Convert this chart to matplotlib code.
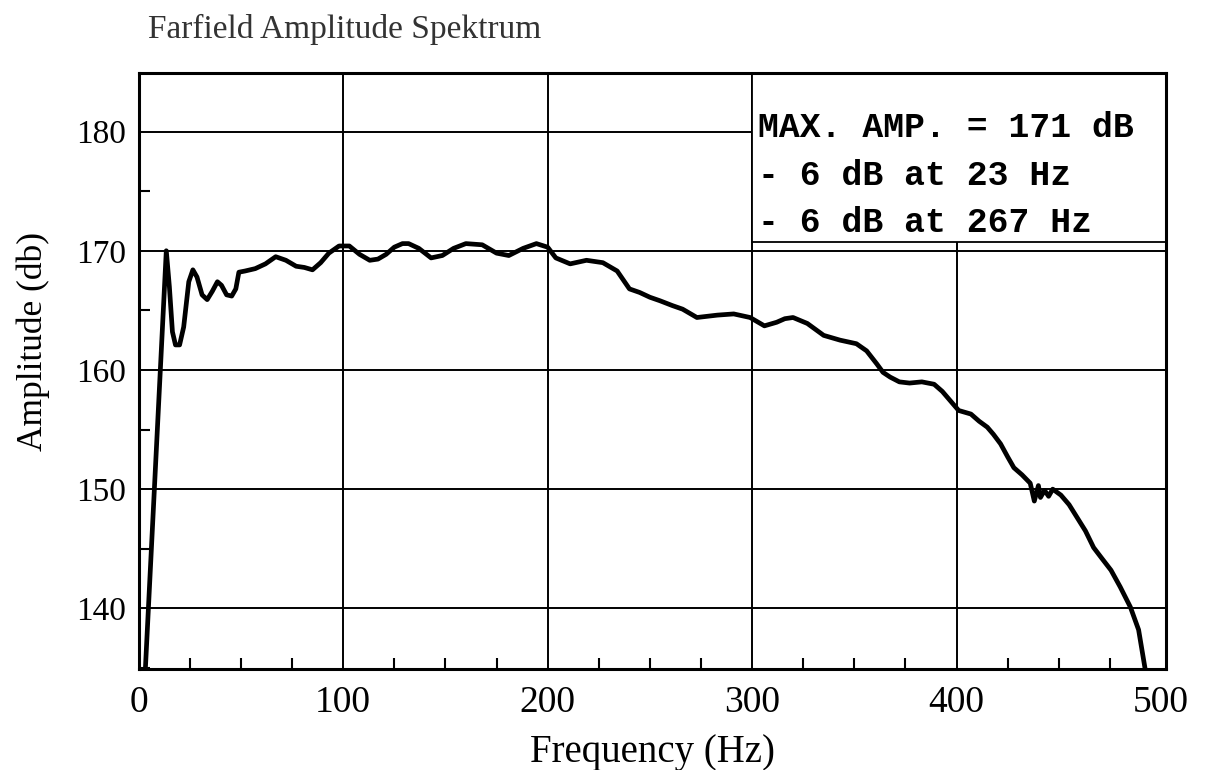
import matplotlib
matplotlib.use("Agg")
import matplotlib.pyplot as plt
from matplotlib.patches import Rectangle
from matplotlib.ticker import MultipleLocator

# spectrum
freq_hz = [3, 13.5, 15, 16.5, 18, 20, 22, 24.5, 26.5, 28.5, 31, 33.5, 36, 38.5,
           40.5, 43, 45.5, 47.5, 49, 52, 57, 62, 67, 72, 77, 81, 85, 89, 93, 98,
           103, 108, 113, 117, 121, 125, 129, 132, 137, 143, 148.5, 154, 160, 168,
           175, 181, 188, 194.5, 200, 204, 211, 219, 227, 234, 240, 245, 250, 255,
           261, 266, 273, 278, 283, 291, 299, 306, 312, 316, 320, 327, 335, 343,
           351, 356, 361, 364, 367.5, 372, 377, 383, 389, 393, 396, 401, 407, 411,
           415, 418, 421.5, 425, 428, 432, 436, 438, 440, 441, 443, 445, 447, 451,
           455, 459, 463, 467, 471, 475.5, 480, 485, 489, 492.6]
amp_db = [134, 170.0, 167.0, 163.2, 162.1, 162.1, 163.6, 167.4, 168.4, 167.8, 166.3,
          165.9, 166.6, 167.4, 167.1, 166.3, 166.2, 166.8, 168.2, 168.3, 168.5,
          168.9, 169.5, 169.2, 168.7, 168.6, 168.4, 169.0, 169.8, 170.4, 170.4,
          169.7, 169.2, 169.3, 169.7, 170.3, 170.6, 170.6, 170.2, 169.4, 169.6,
          170.2, 170.6, 170.5, 169.8, 169.6, 170.2, 170.6, 170.3, 169.4, 168.9,
          169.2, 169.0, 168.3, 166.8, 166.5, 166.1, 165.8, 165.4, 165.1, 164.4,
          164.5, 164.6, 164.7, 164.4, 163.7, 164.0, 164.3, 164.4, 163.9, 162.9,
          162.5, 162.2, 161.6, 160.5, 159.8, 159.4, 159.0, 158.9, 159.0, 158.8,
          158.2, 157.6, 156.6, 156.3, 155.7, 155.2, 154.6, 153.8, 152.7, 151.8,
          151.2, 150.5, 149.0, 150.3, 149.3, 149.9, 149.4, 150.0, 149.5, 148.7,
          147.6, 146.5, 145.1, 144.2, 143.2, 141.8, 140.1, 138.2, 134.5]

x_ticks = [0, 100, 200, 300, 400, 500]
y_ticks = [140, 150, 160, 170, 180]
info_lines = ["MAX. AMP. = 171 dB", "- 6 dB at 23 Hz", "- 6 dB at 267 Hz"]

serif = "Liberation Serif"

fig = plt.figure(figsize=(12.06, 7.7), dpi=100)
ax = fig.add_axes([0.115, 0.131, 0.852, 0.774])

ax.plot(freq_hz, amp_db, color="black", lw=3.4, zorder=3, solid_joinstyle="round")

ax.set_xlim(0, 502.5)
ax.set_ylim(134.9, 184.9)
ax.set_xticks(x_ticks)
ax.set_yticks(y_ticks)
ax.xaxis.set_minor_locator(MultipleLocator(25))
ax.yaxis.set_minor_locator(MultipleLocator(5))
ax.tick_params(which="major", length=0)
ax.tick_params(axis="x", which="major", pad=12, labelsize=27)
ax.tick_params(axis="y", which="major", pad=9, labelsize=24)
ax.tick_params(which="minor", direction="in", length=8, width=1.5)
for lab in ax.get_xticklabels() + ax.get_yticklabels():
    lab.set_fontfamily(serif)

ax.set_axisbelow(True)
ax.grid(True, which="major", color="black", lw=1.4)
ax.xaxis.get_gridlines()[-1].set_visible(False)  # 500 sits on the frame
for s in ax.spines.values():
    s.set_linewidth(2.2)

# info box in the top right corner
box = Rectangle((300, 170.7), 202.5, 14.2, facecolor="white", edgecolor="black",
                lw=1.3, zorder=2)
ax.add_patch(box)
for i, t in enumerate(info_lines):
    ax.text(303, 180.3 - i * 3.95, t, family="Liberation Mono", weight="bold",
            fontsize=25, va="center", ha="left", zorder=4)

ax.set_xlabel("Frequency (Hz)", family=serif, fontsize=28, labelpad=10)
ax.set_ylabel("Amplitude (db)", family=serif, fontsize=25.5)
ax.yaxis.set_label_coords(-0.086, 0.549)
fig.text(0.123, 0.962, "Farfield Amplitude Spektrum", family=serif, fontsize=24,
         color="#333333", va="center", ha="left")

fig.savefig("out.png", dpi=100)
